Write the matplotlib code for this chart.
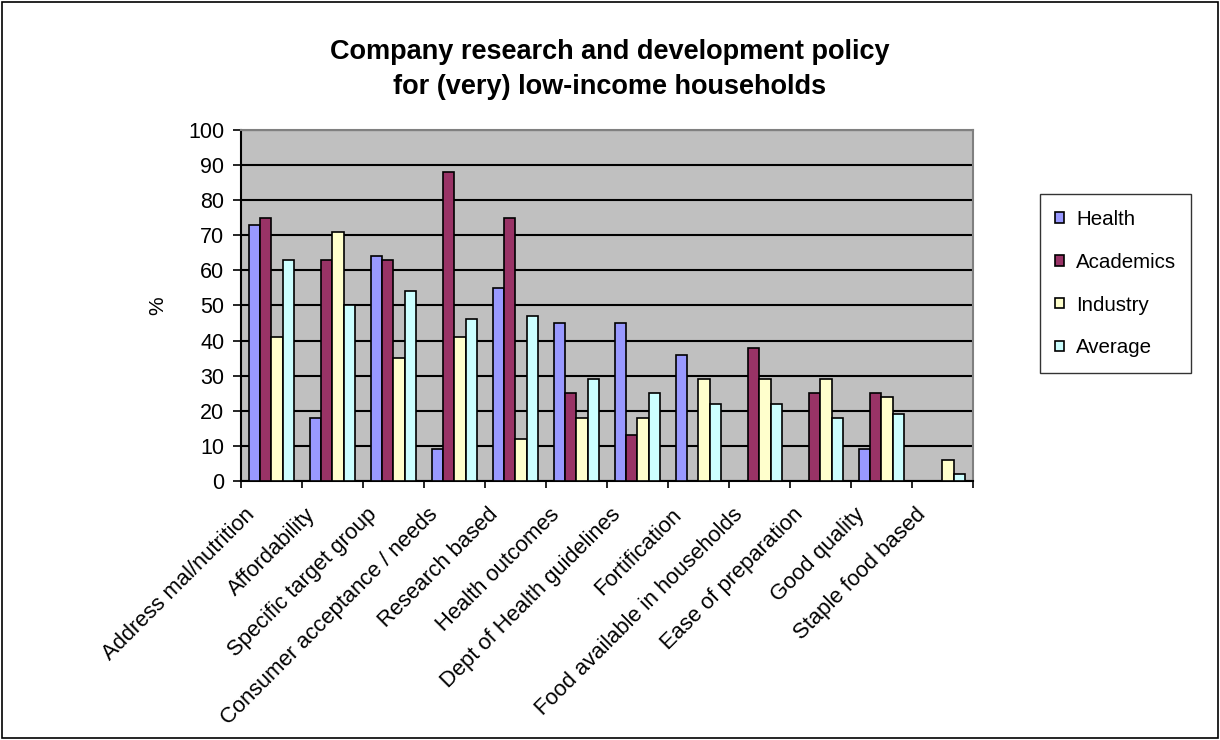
import numpy as np
import matplotlib
matplotlib.use('Agg')
from matplotlib import pyplot as plt
from matplotlib.patches import Rectangle

categories = ['Address mal/nutrition', 'Affordability', 'Specific target group',
              'Consumer acceptance / needs', 'Research based', 'Health outcomes',
              'Dept of Health guidelines', 'Fortification', 'Food available in households',
              'Ease of preparation', 'Good quality', 'Staple food based']
health = [73, 18, 64, 9, 55, 45, 45, 36, 0, 0, 9, 0]
academics = [75, 63, 63, 88, 75, 25, 13, 0, 38, 25, 25, 0]
industry = [41, 71, 35, 41, 12, 18, 18, 29, 29, 29, 24, 6]
average = [63, 50, 54, 46, 47, 29, 25, 22, 22, 18, 19, 2]

series = [('Health', health, '#9999FF'),
          ('Academics', academics, '#993366'),
          ('Industry', industry, '#FFFFCC'),
          ('Average', average, '#CCFFFF')]

plt.rcParams['font.family'] = ['Liberation Sans', 'DejaVu Sans']

fig = plt.figure(figsize=(12.2, 7.4), dpi=100)
ax = fig.add_axes([0.1975, 0.35, 0.6, 0.4745])
ax.set_facecolor('#C0C0C0')

x = np.arange(len(categories))
w = 0.185
for i, (name, vals, col) in enumerate(series):
    ax.bar(x + (i - 1.5) * w, vals, w, color=col, edgecolor='black',
           linewidth=1.2, label=name, zorder=3)

ax.set_xlim(-0.5, len(categories) - 0.5)
ax.set_ylim(0, 100)
ax.set_yticks(range(0, 101, 10))
ax.yaxis.grid(True, color='black', linewidth=1.5, zorder=1)
ax.set_axisbelow(True)

# label anchors sit a little left of each category centre (Excel style)
ax.set_xticks(x - 0.33)
ax.set_xticklabels(categories, rotation=45, ha='right', va='center',
                   rotation_mode='anchor', fontsize=15.8)
ax.set_xticks(np.arange(-0.5, len(categories)), minor=True)
ax.tick_params(axis='x', which='major', length=0, pad=22)
ax.tick_params(axis='x', which='minor', length=5, width=1.2, direction='out')
ax.tick_params(axis='y', length=6, width=1.2, labelsize=15.5, pad=6)

for s in ['top', 'right']:
    ax.spines[s].set_color('#808080')
    ax.spines[s].set_linewidth(1.5)
for s in ['left', 'bottom']:
    ax.spines[s].set_linewidth(1.5)

ax.set_ylabel('%', fontsize=15, labelpad=15)

fig.text(0.5, 0.906, 'Company research and development policy\nfor (very) low-income households',
         ha='center', va='center', fontsize=19.5, fontweight='bold', linespacing=1.42)

leg = ax.legend(loc='upper left', bbox_to_anchor=(1.0915, 0.816), frameon=True, fancybox=False,
                edgecolor='black', fontsize=14.8, handlelength=0.4, handleheight=0.4,
                labelspacing=1.16, borderpad=0.75, handletextpad=0.6, borderaxespad=0)
leg.get_frame().set_linewidth(1.0)

fig.patches.append(Rectangle((0.002, 0.003), 0.996, 0.994, transform=fig.transFigure,
                             fill=False, edgecolor='black', linewidth=1.2))

fig.savefig('out.png', dpi=100)
